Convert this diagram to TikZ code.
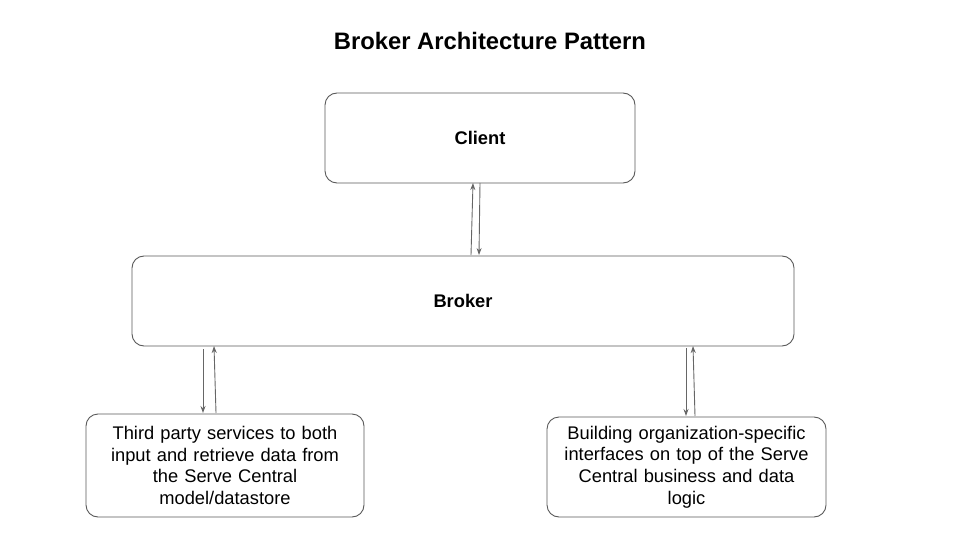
\documentclass[tikz,border=0pt]{standalone}
\usepackage{fontspec}
\setmainfont{Liberation Sans}
\usetikzlibrary{arrows.meta}
\definecolor{edge}{HTML}{595959}
\definecolor{arr}{HTML}{666666}
\begin{document}
\begin{tikzpicture}[x=1pt,y=-1pt,
  box/.style={draw=edge, line width=0.9pt, rounded corners=12pt, inner sep=0pt, align=center},
  body/.style={font=\fontsize{18.3}{21.7}\selectfont},
  conn/.style={draw=arr, line width=0.9pt, -{Stealth[length=7pt,width=5pt]}}]
\useasboundingbox (0,0) rectangle (960,540);
\node (title) at (490,41) {\fontsize{23.8}{28}\selectfont\bfseries Broker Architecture Pattern};
\node[box, minimum width=310pt, minimum height=90pt, font=\fontsize{18.3}{22}\selectfont\bfseries] (client) at (480,138) {Client};
\node[box, minimum width=662pt, minimum height=90pt, font=\fontsize{18.3}{22}\selectfont\bfseries] (broker) at (463,301) {Broker};
\node[box, body, minimum width=278pt, minimum height=103pt, text width=270pt] (third) at (225,465.5) {Third party services to both\\input and retrieve data from\\the Serve Central\\model/datastore};
\node[box, body, minimum width=279pt, minimum height=100pt, text width=270pt] (build) at (686.5,467) {Building organization-specific\\interfaces on top of the Serve\\Central business and data\\logic};
% client <-> broker
\coordinate (a1) at (471,255);
\coordinate (a2) at (473,183);
\draw[conn] (a1) -- (a2);
\coordinate (b1) at (480,183);
\coordinate (b2) at (479,255);
\draw[conn] (b1) -- (b2);
% broker <-> third
\coordinate (c1) at (203,349);
\coordinate (c2) at (203,413);
\draw[conn] (c1) -- (c2);
\coordinate (d1) at (216,413);
\coordinate (d2) at (214,346);
\draw[conn] (d1) -- (d2);
% broker <-> build
\coordinate (e1) at (686,348);
\coordinate (e2) at (686,416);
\draw[conn] (e1) -- (e2);
\coordinate (f1) at (695,416);
\coordinate (f2) at (693,346);
\draw[conn] (f1) -- (f2);
\end{tikzpicture}
\end{document}
